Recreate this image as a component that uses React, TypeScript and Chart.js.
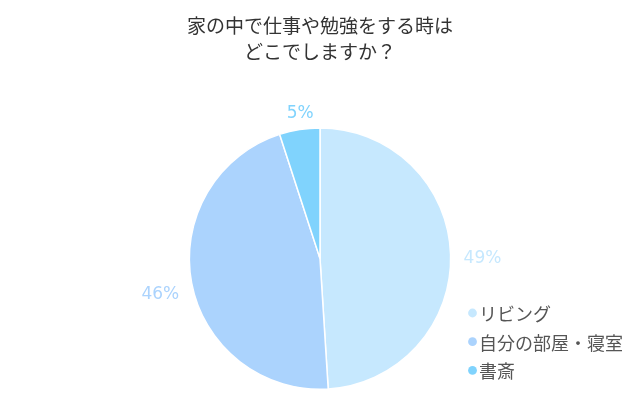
import { useEffect, useRef } from 'react';
import { Chart, registerables } from 'chart.js';

Chart.register(...registerables);

const titleLines = ['家の中で仕事や勉強をする時は', 'どこでしますか？'];
const places = ['リビング', '自分の部屋・寝室', '書斎'];
const shares = [49, 46, 5];
const sliceColors = ['#c6e8fe', '#abd3fd', '#80d3fd'];

const FONT = '"Noto Sans CJK JP", "Noto Sans", sans-serif';

// percentage text sits just outside each slice, clear of the rim
const outsideLabels = {
  id: 'outsideLabels',
  afterDatasetsDraw(chart: Chart) {
    const ctx = chart.ctx;
    const meta = chart.getDatasetMeta(0);
    ctx.save();
    ctx.font = '17px "DejaVu Sans", sans-serif';
    ctx.textAlign = 'center';
    ctx.textBaseline = 'middle';
    meta.data.forEach((arc: any, i: number) => {
      const text = `${shares[i]}%`;
      const mid = (arc.startAngle + arc.endAngle) / 2;
      const w = ctx.measureText(text).width;
      const cos = Math.cos(mid);
      const sin = Math.sin(mid);
      const r = arc.outerRadius + 13 + (w / 2) * Math.abs(cos) + 6 * Math.abs(sin);
      ctx.fillStyle = sliceColors[i];
      ctx.fillText(text, arc.x + cos * r + 4 * Math.sign(-cos) * Math.abs(sin), arc.y + sin * r + 5);
    });
    ctx.restore();
  },
};

const cornerLegend = {
  id: 'cornerLegend',
  afterDraw(chart: Chart) {
    const ctx = chart.ctx;
    ctx.save();
    ctx.font = `18px ${FONT}`;
    ctx.textBaseline = 'middle';
    places.forEach((name, i) => {
      const y = 313 + i * 28.7;
      ctx.fillStyle = sliceColors[i];
      ctx.beginPath();
      ctx.arc(472.5, y, 4.4, 0, Math.PI * 2);
      ctx.fill();
      ctx.fillStyle = '#555555';
      ctx.fillText(name, 479, y + 1);
    });
    ctx.restore();
  },
};

export default function App() {
  const chartRef = useRef<HTMLCanvasElement>(null);
  const chartInstance = useRef<Chart | null>(null);

  useEffect(() => {
    document.body.style.margin = '0';
    if (!chartRef.current) return;
    const ctx = chartRef.current.getContext('2d');
    if (!ctx) return;
    if (chartInstance.current) chartInstance.current.destroy();

    chartInstance.current = new Chart(ctx, {
      type: 'pie',
      data: {
        labels: places,
        datasets: [
          {
            data: shares,
            backgroundColor: sliceColors,
            borderColor: '#ffffff',
            borderWidth: 1.5,
          },
        ],
      },
      options: {
        responsive: false,
        animation: false,
        layout: { padding: { top: 0, bottom: 20 } },
        plugins: {
          legend: { display: false },
          tooltip: { enabled: false },
          title: {
            display: true,
            text: titleLines,
            color: '#333333',
            font: { family: FONT, size: 19, weight: 'normal', lineHeight: 1.4 },
            padding: { top: 12, bottom: 62 },
          },
        },
      },
      plugins: [outsideLabels, cornerLegend],
    });

    return () => {
      if (chartInstance.current) {
        chartInstance.current.destroy();
        chartInstance.current = null;
      }
    };
  }, []);

  return (
    <div style={{ width: 640, height: 410, background: '#ffffff' }}>
      <canvas ref={chartRef} width={640} height={410} />
    </div>
  );
}
